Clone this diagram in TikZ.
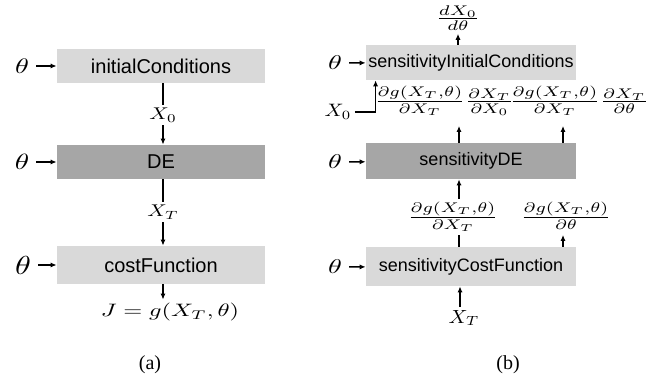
\documentclass[tikz,border=0pt]{standalone}
\usepackage[no-math]{fontspec}
\newfontfamily\boxfont{Liberation Sans}
\newfontfamily\capfont{Liberation Serif}
\usetikzlibrary{arrows.meta}
\definecolor{boxlight}{RGB}{217,217,217}
\definecolor{boxdark}{RGB}{166,166,166}
\newcommand{\mth}[3]{\scalebox{#1}[#2]{$#3$}}
\tikzset{
  blk/.style={draw=none, minimum width=104pt, inner sep=0pt, font=\boxfont\fontsize{10}{12}\selectfont},
  sblk/.style={draw=none, minimum width=105pt, inner sep=0pt, font=\boxfont\fontsize{9}{11}\selectfont},
  lab/.style={inner sep=1.5pt},
  flab/.style={inner xsep=1pt, inner ysep=5pt},
  arr/.style={-{Latex[length=3pt,width=2.6pt]}, line width=0.7pt},
  ln/.style={line width=0.7pt},
}
\begin{document}
\begin{tikzpicture}[x=0.5pt,y=-0.5pt]
\useasboundingbox (0,0) rectangle (663,383);
% ---------- (a) ----------
\node[blk, fill=boxlight, minimum height=17pt] (ic) at (161,66) {initialConditions};
\node[blk, fill=boxdark, minimum height=17pt] (de) at (161,162) {DE};
\node[blk, fill=boxlight, minimum height=19pt] (cf) at (161,265) {costFunction};
\node (t1) at (22,66) {\mth{1.4}{1.05}{\theta}};
\node (t2) at (22,162) {\mth{1.45}{1.1}{\theta}};
\node (t3) at (23,265) {\mth{1.6}{1.3}{\theta}};
\draw[arr] (t1) -- (ic);
\draw[arr] (t2) -- (de);
\draw[arr] (t3) -- (cf);
\node[lab] (x0) at (163,115) {\mth{1.07}{0.85}{X_0}};
\node[lab] (xt) at (163,212) {\mth{1.07}{0.85}{X_T}};
\draw[ln] (ic.south -| x0) -- (x0);
\draw[arr] (x0) -- (de.north -| x0);
\draw[ln] (de.south -| xt) -- (xt);
\draw[arr] (xt) -- (cf.north -| xt);
\node[lab] (J) at (170,312) {\mth{1.22}{0.9}{J = g(X_T,\theta)}};
\draw[arr] ([xshift=1pt]cf.south) -- ([xshift=1pt]cf.south |- J.north);
% ---------- (b) ----------
\node[sblk, fill=boxlight, minimum height=17.5pt] (A) at (471,62.5) {sensitivityInitialConditions};
\node[sblk, fill=boxdark, minimum height=18pt] (B) at (471,161) {sensitivityDE};
\node[sblk, fill=boxlight, minimum height=19.5pt] (C) at (471,266.5) {sensitivityCostFunction};
\node (ra) at (335,63) {\mth{1.4}{1}{\theta}};
\node (rb) at (335,162) {\mth{1.4}{1}{\theta}};
\node (rc) at (335,267) {\mth{1.4}{1}{\theta}};
\draw[arr] (ra) -- (A);
\draw[arr] (rb) -- (B);
\draw[arr] (rc) -- (C);
\node[lab] (dx) at (458,18) {\mth{1.3}{1}{\frac{dX_0}{d\theta}}};
\draw[arr] (A.north -| dx) -- (dx.south);
\node[lab] (x0r) at (338,112) {\mth{1.05}{0.9}{X_0}};
\draw[arr] (x0r.east) -| ([xshift=5pt]A.south west);
\node[flab] (F1) at (444,101) {\mth{1.26}{1}{\frac{\partial g(X_T,\theta)}{\partial X_T}\frac{\partial X_T}{\partial X_0}}};
\node[flab] (F2) at (579,101) {\mth{1.26}{1}{\frac{\partial g(X_T,\theta)}{\partial X_T}\frac{\partial X_T}{\partial \theta}}};
\draw[arr] ([xshift=-6pt]B.north) -- ([xshift=-6pt]B.north |- F1.south);
\draw[arr] ([xshift=46pt]B.north) -- ([xshift=46pt]B.north |- F2.south);
\node[lab] (G1) at (453,217) {\mth{1.26}{1}{\frac{\partial g(X_T,\theta)}{\partial X_T}}};
\node[inner sep=2.5pt] (G2) at (566,216) {\mth{1.26}{1}{\frac{\partial g(X_T,\theta)}{\partial \theta}}};
\draw[ln] ([xshift=-6pt]C.north) -- ([xshift=-6pt]C.north |- G1.south);
\draw[arr] ([xshift=-6pt]B.south |- G1.north) -- ([xshift=-6pt]B.south);
\draw[arr] ([xshift=46pt]C.north) -- ([xshift=46pt]C.north |- G2.south);
\node[lab] (xtr) at (464,318) {\mth{1.05}{0.95}{X_T}};
\draw[arr] ([xshift=-5.5pt]C.south |- xtr.north) -- ([xshift=-5.5pt]C.south);
% ---------- captions ----------
\node[font=\capfont\fontsize{10}{12}\selectfont] (ca) at (150,365) {(a)};
\node[font=\capfont\fontsize{10}{12}\selectfont] (cb) at (508,365) {(b)};
\end{tikzpicture}
\end{document}
